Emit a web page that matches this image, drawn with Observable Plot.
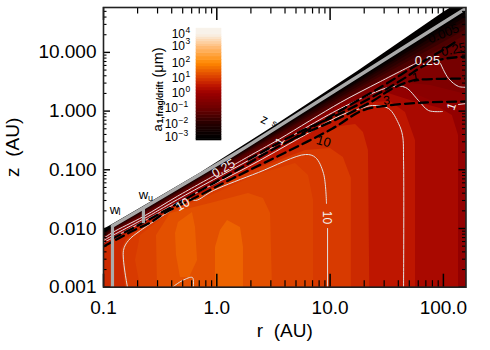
<!DOCTYPE html>
<html><head><meta charset="utf-8">
<script src="https://cdn.jsdelivr.net/npm/d3@7"></script>
<script src="https://cdn.jsdelivr.net/npm/@observablehq/plot@0.6"></script>
<style>html,body{margin:0;padding:0;background:#fff}#wrap{position:relative;width:490px;height:350px}svg{overflow:visible}</style>
</head><body><div id="wrap"></div>
<script>
// Axis ticks
const xMajor=[0.1,1,10,100], xMajorLabels=["0.1","1.0","10.0","100.0"];
const xMinor=[0.2,0.3,0.4,0.5,0.6,0.7,0.8,0.9,2,3,4,5,6,7,8,9,20,30,40,50,60,70,80,90];
const yMajor=[0.001,0.01,0.1,1,10], yMajorLabels=["0.001","0.010","0.100","1.000","10.000"];
const yMinor=[0.002,0.003,0.004,0.005,0.006,0.007,0.008,0.009,0.02,0.03,0.04,0.05,0.06,0.07,0.08,0.09,0.2,0.3,0.4,0.5,0.6,0.7,0.8,0.9,2,3,4,5,6,7,8,9,20,30,40,50];
// Colour table
const colorValues=[0.001,0.01,0.1,1,3,10,100,1000,10000];
const colorHex=["#020000","#240000","#6e0000","#9a0000","#bc1400","#d83a00","#ff8800","#ffc080","#f8f2ea"];
// Filled levels: outer to inner, upper boundary of each level
const gridR=[0.1,0.12,0.225,1.32,17.5,100,160];
const midR=[0.1,0.12,0.225,1.32,12.35,41.8,76.9,160];
const bands=[
 {v:0.001,r:[0.1,0.12,0.225,0.718,3.5,17.5,100,160],z:[0.0096,0.0117,0.0237,0.0881,0.615,4.73,47.9,84]},
 {v:0.002,r:gridR,z:[0.00822,0.0102,0.0211,0.1558,3.32,26.6,46]},
 {v:0.006,r:gridR,z:[0.0081,0.0101,0.0203,0.15,3.05,23.2,40]},
 {v:0.012,r:gridR,z:[0.0079,0.01,0.0195,0.1441,2.84,20.2,34.9]},
 {v:0.02,r:gridR,z:[0.0076,0.0096,0.0187,0.138,2.56,17.2,29]},
 {v:0.035,r:gridR,z:[0.0073,0.00925,0.018,0.1332,2.33,14.75,24.6]},
 {v:0.055,r:gridR,z:[0.007,0.0089,0.0173,0.125,2.08,12.1,19.8]},
 {v:0.08,r:gridR,z:[0.00676,0.00855,0.01666,0.1184,1.844,9.96,15.95]},
 {v:0.15,r:gridR,z:[0.0065,0.0079,0.0154,0.1053,1.577,7.28,10.8]},
 {v:0.25,r:[0.1,0.12,0.225,0.45,1.146,1.905,3.58,12.35,27.8,56.7,94.3,111,136,160],z:[0.00676,0.00855,0.016,0.0355,0.0973,0.1685,0.3346,1.401,3.19,6.47,6.47,3.59,2.63,2.55]},
 {v:0.45,r:midR,z:[0.00637,0.0079,0.0151,0.0973,1.246,3.07,2.73,1.919]},
 {v:0.7,r:midR,z:[0.006,0.0076,0.01424,0.09,1.152,2.525,1.516,1.457]},
 {v:1.6,r:[0.1,0.12,0.225,1.32,12.35,30.8,51.2,94.3,120,136,136],z:[0.00555,0.00703,0.01316,0.0832,1.024,2.074,1.516,1.107,0.8416,0.384,0.001]},
 {v:3.2,r:[0.1,0.12,0.225,1.32,12.35,22.7,34.1,46.3,56.7,56.7],z:[0.00534,0.00663,0.01217,0.074,0.91,1.401,1.457,0.947,0.3157,0.001]},
 {v:6,r:[0.1,0.12,0.225,1.32,6.07,12.35,16.8,19.7,21.8,22.4],z:[0.00494,0.006,0.01125,0.0632,0.2806,0.5466,0.5915,0.432,0.2132,0.001]},
 {v:10,r:[0.1564,0.1442,0.1596,0.2122,0.45,0.935,2.33,6.07,10.08,13.1,15.4,15.4],z:[0.001,0.00422,0.0065,0.0096,0.02465,0.048,0.1053,0.2132,0.2306,0.162,0.0711,0.001]},
 {v:13,r:[0.2122,0.1916,0.2122,0.39,0.935,2.33,4.95,6.45,7.14,7.14],z:[0.001,0.00285,0.0076,0.01874,0.0379,0.0832,0.128,0.08,0.03,0.001]},
 {v:19,r:[0.2996,0.2936,0.39,0.88,1.905,2.58,2.98,3.1],z:[0.001,0.0076,0.018,0.0267,0.0395,0.0325,0.018,0.001]},
 {v:30,floor:0.00146,r:[0.478,0.441,0.432,0.459,0.61,0.649,0.676,0.586],z:[0.00146,0.00347,0.00822,0.01265,0.01874,0.0104,0.00285,0.00158]},
 {v:34,r:[0.974,0.974,1.078,1.243,1.619,1.72,1.72],z:[0.001,0.00475,0.00925,0.0137,0.0104,0.00475,0.001]}
];
// White contours (NaN marks a gap for a label)
const w025R=[0.1,0.12,0.225,0.45,0.954,1.146,1.433,1.905,3.58,12.35,27.8,56.7,72,94.3,111,136,160];
const w025Z=[0.00676,0.00855,0.016,0.0355,0.08,NaN,0.1231,0.1685,0.3346,1.401,3.19,6.47,NaN,6.47,3.59,2.63,2.55];
const w1R=[0.1,0.12,0.225,0.45,1.905,3.23,3.6,3.96,12.35,35.5,46.3,60.3,73.9,98.2,118,136,160];
const w1Z=[0.00625,0.0076,0.0145,0.0312,0.1441,0.2495,NaN,0.3157,1.107,2.63,2.525,1.516,1.024,0.984,NaN,1.296,1.347];
const w3R=[0.1,0.12,0.225,0.45,1.905,5.48,12.35,18.55,23.7,32.8,40.2,43.6,44.5,44.5];
const w3Z=[0.00577,0.00689,0.01316,0.0277,0.1138,0.355,0.8416,1.107,1.246,1.107,0.615,0.384,0.1441,0.001];
const w10R=[0.1628,0.15,0.1662,0.2122,0.406,0.5,0.586,0.649,0.935,2.33,6.07,7.43,8.75,9.29,9.4,9.5,9.5];
const w10Z=[0.001,0.00422,0.00625,0.00925,0.0211,NaN,0.0325,0.03,0.0444,0.09,0.1823,0.162,0.0865,0.0267,NaN,0.01,0.001];
const w30R=[0.406,0.498,0.61,0.62], w30Z=[0.001,0.0013,0.00146,0.001];
// Black dashed contours
const d10R=[0.1,0.1357,0.184,0.26,0.3525,0.649,1.123,1.905,4.04,10.5,19.3,32.8,69.5,160];
const d10Z=[0.00494,0.00676,0.00925,0.01265,0.01874,0.0337,0.0584,0.0973,0.197,0.5055,1.024,1.246,1.401,1.457];
const d1R=[0.12,0.225,0.718,1.905,2.69,5.48,12.35,24.2,35.5,53.4,62.8,160];
const d1Z=[0.00676,0.01265,0.0444,0.128,0.1896,0.384,0.778,1.516,2.427,3.32,3.455,3.59];
const d025R=[1.905,5.48,12.35,27.8,46.3,65.4,94.3,160];
const d025Z=[0.15,0.449,0.91,2.074,3.737,5.75,7.57,8.52];
const d0005R=[4.47,12.35,29.6,53.4,104,133];
const d0005Z=[0.3157,1.024,2.73,5.53,11.65,15.95];
// Surface line and the two wind-base markers
const surfaceR=[0.12,0.225,1.32,1.8,17.5,100,160];
const surfaceZ=[0.011,0.0223,0.169,0.243,3.88,32.3,57];
const markers=[{r:0.12,z1:0.001,z2:0.011},{r:0.225,z1:0.0121,z2:0.0223}];
// Labels
const whiteLabels=[
 {r:72.4,z:7.28,t:"0.25",a:0,s:13},{r:1.146,z:0.1053,t:"0.25",a:-30,s:12.5},
 {r:3.58,z:0.3034,t:"1",a:-60,s:11.5},{r:118,z:1.198,t:"1",a:-70,s:12},
 {r:0.5,z:0.0256,t:"10",a:-30,s:12.5},{r:9.3,z:0.0154,t:"10",a:90,s:12}];
const blackLabels=[
 {r:100,z:21,t:"0.005",a:-22,s:13},{r:123,z:11.2,t:"0.25",a:-12,s:13},
 {r:56.7,z:3.737,t:"1",a:-10,s:12.5},{r:31.5,z:1.516,t:"3",a:-5,s:12.5},{r:8.75,z:0.3034,t:"10",a:15,s:13}];
const nameLabels=[
 {r:2.636,z:0.72,t:"z",a:25,s:13},{r:3.23,z:0.615,t:"s",a:25,s:9},
 {r:0.125,z:0.0211,t:"w",a:0,s:13},{r:0.1384,z:0.01874,t:"l",a:0,s:9},
 {r:0.225,z:0.0379,t:"w",a:0,s:13},{r:0.26,z:0.0325,t:"u",a:0,s:9}];
// Colour bar
const barTicks=[0.001,0.01,0.1,1,10,100,1000,10000];
const barExp=["−3","−2","−1","0","1","2","3","4"];
const barLevels=[-3.4,-3.2,-3,-2.8,-2.6,-2.4,-2.2,-2,-1.8,-1.6,-1.4,-1.2,-1,-0.8,-0.6,-0.4,-0.2,0,0.2,0.4,0.6,0.8,1,1.2,1.4,1.6,1.8,2,2.2,2.4,2.6,2.8,3,3.2,3.4,3.6,3.8,4,4.2];

const font="Liberation Sans";
const pts=(r,z)=>r.map((x,i)=>({r:x,z:z[i]}));
const colorScale={type:"log",domain:colorValues,range:colorHex,clamp:true};
const W=490,H=350,mL=103,mR=24.5,mT=7,mB=63.3;
const frameH=H-mT-mB, frameW=W-mL-mR;
const whiteLine=(r,z,w=1)=>Plot.line(pts(r,z),{x:"r",y:"z",stroke:"#e2e2e2",strokeWidth:w,curve:"catmull-rom",clip:true});
const dashLine=(r,z)=>Plot.line(pts(r,z),{x:"r",y:"z",stroke:"#000",strokeWidth:2.3,strokeDasharray:"9 5",curve:"catmull-rom",clip:true});
const labelMark=(rows,fill)=>Plot.text(rows,{x:"r",y:"z",text:"t",rotate:"a",fontSize:"s",fill});

const chart=Plot.plot({
 width:W,height:H,marginLeft:mL,marginRight:mR,marginTop:mT,marginBottom:mB,
 style:{fontFamily:font,background:"transparent"},
 x:{type:"log",domain:[0.1,158.3]},
 y:{type:"log",domain:[0.001,58.2]},
 color:colorScale,
 marks:[
  ...bands.map(b=>Plot.areaY(pts(b.r,b.z),{x:"r",y1:()=>b.floor??0.001,y2:"z",fill:()=>b.v,clip:true})),
  whiteLine(w025R,w025Z),whiteLine(w1R,w1Z),whiteLine(w3R,w3Z),whiteLine(w10R,w10Z),whiteLine(w30R,w30Z),
  dashLine(d10R,d10Z),dashLine(d1R,d1Z),dashLine(d025R,d025Z),dashLine(d0005R,d0005Z),
  Plot.line(pts(surfaceR,surfaceZ),{x:"r",y:"z",stroke:"#aaa",strokeWidth:3.4,clip:true}),
  Plot.ruleX(markers,{x:"r",y1:"z1",y2:"z2",stroke:"#aaa",strokeWidth:3.2}),
  labelMark(whiteLabels,"#f2f2f2"),labelMark(blackLabels,"#000"),labelMark(nameLabels,"#000"),
  Plot.ruleX(xMajor,{x:d=>d,insetTop:frameH-13,stroke:"#000",strokeWidth:1.5}),
  Plot.ruleX(xMinor,{x:d=>d,insetTop:frameH-6.5,stroke:"#000",strokeWidth:1.2}),
  Plot.ruleX(xMajor,{x:d=>d,insetBottom:frameH-13,stroke:"#000",strokeWidth:1.5}),
  Plot.ruleX(xMinor,{x:d=>d,insetBottom:frameH-6.5,stroke:"#000",strokeWidth:1.2}),
  Plot.ruleY(yMajor,{y:d=>d,insetRight:frameW-7,stroke:"#000",strokeWidth:1.4}),
  Plot.ruleY(yMinor,{y:d=>d,insetRight:frameW-3.5,stroke:"#000",strokeWidth:1.1}),
  Plot.ruleY(yMajor,{y:d=>d,insetLeft:frameW-7,stroke:"#000",strokeWidth:1.4}),
  Plot.ruleY(yMinor,{y:d=>d,insetLeft:frameW-3.5,stroke:"#000",strokeWidth:1.1}),
  Plot.frame({stroke:"#222",strokeWidth:1.6}),
  Plot.axisX({ticks:xMajor,tickFormat:d=>xMajorLabels[xMajor.indexOf(d)],tickSize:0,tickPadding:13,fontSize:19,
    label:"r  (AU)",labelAnchor:"center",labelArrow:"none",labelOffset:50}),
  Plot.axisY({ticks:yMajor,tickFormat:d=>yMajorLabels[yMajor.indexOf(d)],tickSize:0,tickPadding:7,fontSize:19,
    label:"z  (AU)",labelAnchor:"center",labelArrow:"none",labelOffset:98})
 ]
});
const wrap=document.getElementById("wrap");
wrap.appendChild(chart);

const strips=barLevels.slice(0,-1).map((e,i)=>({lo:10**e,hi:10**barLevels[i+1]}));
const bar=Plot.plot({
 width:25,height:112,margin:0,
 style:{fontFamily:font,background:"transparent",position:"absolute",left:"196px",top:"28px",overflow:"visible"},
 x:{axis:null},
 y:{type:"log",axis:null,domain:[0.0004,0.001,0.01,0.1,1,10,100,1000,10000,16000],range:[112,109,96,80,65,50,35,17.5,6,0],clamp:true},
 color:colorScale,
 marks:[
  Plot.rect(strips,{y1:"lo",y2:"hi",fill:d=>Math.sqrt(d.lo*d.hi),stroke:d=>Math.sqrt(d.lo*d.hi),strokeWidth:0.6}),
  Plot.text(barTicks.slice(3),{y:d=>d,text:()=>"10",frameAnchor:"left",dx:-11.5,textAnchor:"end",fontSize:12,fill:"#000"}),
  Plot.text(barTicks.slice(0,3),{y:d=>d,text:()=>"10",frameAnchor:"left",dx:-18.5,textAnchor:"end",fontSize:12,fill:"#000"}),
  Plot.text(barTicks.slice(3),{y:d=>d,text:d=>barExp[barTicks.indexOf(d)],frameAnchor:"left",dx:-11,dy:-4.5,textAnchor:"start",fontSize:8.5,fill:"#000"}),
  Plot.text(barTicks.slice(0,3),{y:d=>d,text:d=>barExp[barTicks.indexOf(d)],frameAnchor:"left",dx:-18,dy:-4.5,textAnchor:"start",fontSize:8.5,fill:"#000"}),
  Plot.text(["a"],{text:d=>d,frameAnchor:"top-left",dx:-44,dy:103,rotate:-90,textAnchor:"start",fontSize:13,fill:"#000"}),
  Plot.text(["1,frag/drift"],{text:d=>d,frameAnchor:"top-left",dx:-39.5,dy:95,rotate:-90,textAnchor:"start",fontSize:8.5,fontWeight:"bold",fill:"#000"}),
  Plot.text(["(μm)"],{text:d=>d,frameAnchor:"top-left",dx:-44,dy:49,rotate:-90,textAnchor:"start",fontSize:14.5,fill:"#000"})
 ]
});
wrap.appendChild(bar);
</script></body></html>
